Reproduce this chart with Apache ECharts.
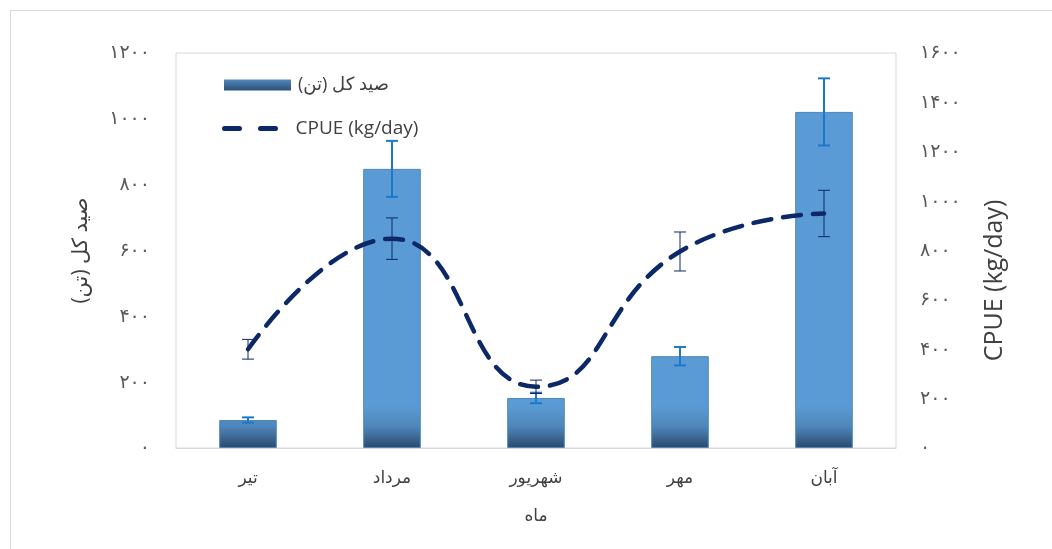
<!DOCTYPE html>
<html>
<head>
<meta charset="utf-8">
<script src="https://cdn.jsdelivr.net/npm/echarts@6/dist/echarts.min.js"></script>
<style>
  html, body { margin: 0; padding: 0; background: #fff; }
  #frame { position: absolute; left: 10px; top: 10px; width: 1100px; height: 600px; border: 1px solid #d9d9d9; }
  #chart { position: absolute; left: 0; top: 0; width: 1052px; height: 549px; }
</style>
</head>
<body>
<div id="frame"></div>
<div id="chart"></div>
<script>
// ماه‌ها
const months = ['تیر', 'مرداد', 'شهریور', 'مهر', 'آبان'];
// صید کل (تن) و خطای آن
const catchTon = [85, 848, 152, 279, 1021];
const catchErr = [8, 85, 16, 28, 102];
// CPUE (kg/day) و خطای آن
const cpue = [400, 848, 248, 796, 950];
const cpueErr = [40, 84, 27, 79, 94];

const barName = 'صید کل (تن)\u200F';
const lineName = 'CPUE (kg/day)';
const font = "'Open Sans', 'DejaVu Sans', sans-serif";

function faDigits(v) {
  return String(v).replace(/\d/g, function (d) { return '۰۱۲۳۴۵۶۷۸۹'[d]; });
}

function errData(vals, errs) {
  return vals.map(function (v, i) { return [i, v - errs[i], v + errs[i]]; });
}

function errRender(color, width) {
  return function (params, api) {
    const lo = api.coord([api.value(0), api.value(1)]);
    const hi = api.coord([api.value(0), api.value(2)]);
    const hw = 6;
    const style = { stroke: color, lineWidth: width };
    return {
      type: 'group',
      children: [
        { type: 'line', shape: { x1: lo[0], y1: lo[1], x2: hi[0], y2: hi[1] }, style: style },
        { type: 'line', shape: { x1: lo[0] - hw, y1: lo[1], x2: lo[0] + hw, y2: lo[1] }, style: style },
        { type: 'line', shape: { x1: hi[0] - hw, y1: hi[1], x2: hi[0] + hw, y2: hi[1] }, style: style }
      ]
    };
  };
}

const myChart = echarts.init(document.getElementById('chart'));

const option = {
  animation: false,
  backgroundColor: 'transparent',
  textStyle: { fontFamily: font },
  grid: {
    left: 176, right: 156, top: 53, bottom: 101,
    show: true, borderColor: '#d9d9d9', borderWidth: 1
  },
  legend: [
    {
      left: 219, top: 71,
      itemWidth: 67, itemHeight: 11,
      textStyle: { color: '#404040', fontSize: 18, fontFamily: font, padding: [0, 0, 0, 2] },
      data: [{
        name: barName, icon: 'rect',
        itemStyle: {
          borderWidth: 0,
          color: new echarts.graphic.LinearGradient(0, 0, 0, 1, [
            { offset: 0, color: '#5488bb' },
            { offset: 1, color: '#2c5077' }
          ])
        }
      }]
    },
    {
      left: 217, top: 114,
      itemWidth: 57, itemHeight: 5,
      textStyle: { color: '#404040', fontSize: 19, fontFamily: font, padding: [0, 0, 0, 12] },
      data: [{
        name: lineName,
        icon: 'path://M2.5,0h15a2.5,2.5 0 0 1 0,5h-15a2.5,2.5 0 0 1 0,-5z M38.5,0h15a2.5,2.5 0 0 1 0,5h-15a2.5,2.5 0 0 1 0,-5z',
        itemStyle: { color: '#0c2866', borderWidth: 0 }
      }]
    }
  ],
  xAxis: {
    type: 'category',
    data: months,
    name: 'ماه',
    nameLocation: 'middle',
    nameGap: 60,
    nameTextStyle: { color: '#404040', fontSize: 17 },
    axisLine: { lineStyle: { color: '#d9d9d9' } },
    axisTick: { show: false },
    axisLabel: { color: '#404040', fontSize: 17, margin: 22 }
  },
  yAxis: [
    {
      type: 'value', min: 0, max: 1200, interval: 200,
      name: barName,
      nameLocation: 'middle',
      nameRotate: 90,
      nameGap: 84,
      nameTextStyle: { color: '#404040', fontSize: 21 },
      axisLine: { show: false },
      axisTick: { show: false },
      splitLine: { show: false },
      axisLabel: { color: '#595959', fontSize: 19, margin: 26, formatter: faDigits }
    },
    {
      type: 'value', min: 0, max: 1600, interval: 200,
      name: lineName,
      nameLocation: 'middle',
      nameRotate: 90,
      nameGap: 86,
      nameTextStyle: { color: '#404040', fontSize: 25, padding: [0, 60, 0, 0] },
      axisLine: { show: false },
      axisTick: { show: false },
      splitLine: { show: false },
      axisLabel: { color: '#595959', fontSize: 19, margin: 24, formatter: faDigits }
    }
  ],
  series: [
    {
      name: barName,
      type: 'bar',
      barWidth: '40%',
      data: catchTon,
      itemStyle: {
        borderColor: '#4f86ba',
        borderWidth: 1,
        color: new echarts.graphic.LinearGradient(0, 405, 0, 448, [
          { offset: 0, color: '#5b9bd5' },
          { offset: 0.5, color: '#4e86ba' },
          { offset: 1, color: '#2b4a6b' }
        ], true)
      }
    },
    {
      name: 'catchErr',
      type: 'custom',
      renderItem: errRender('#1f77c8', 2),
      data: errData(catchTon, catchErr),
      z: 3
    },
    {
      name: lineName,
      type: 'line',
      yAxisIndex: 1,
      smooth: 0.5,
      symbol: 'none',
      data: cpue,
      lineStyle: { color: '#0c2866', width: 4.5, type: [18, 12], cap: 'round' },
      itemStyle: { color: '#0c2866' },
      z: 4
    },
    {
      name: 'cpueErr',
      type: 'custom',
      yAxisIndex: 1,
      renderItem: errRender('#0c2866', 1),
      data: errData(cpue, cpueErr),
      z: 5
    }
  ]
};

myChart.setOption(option);
</script>
</body>
</html>
